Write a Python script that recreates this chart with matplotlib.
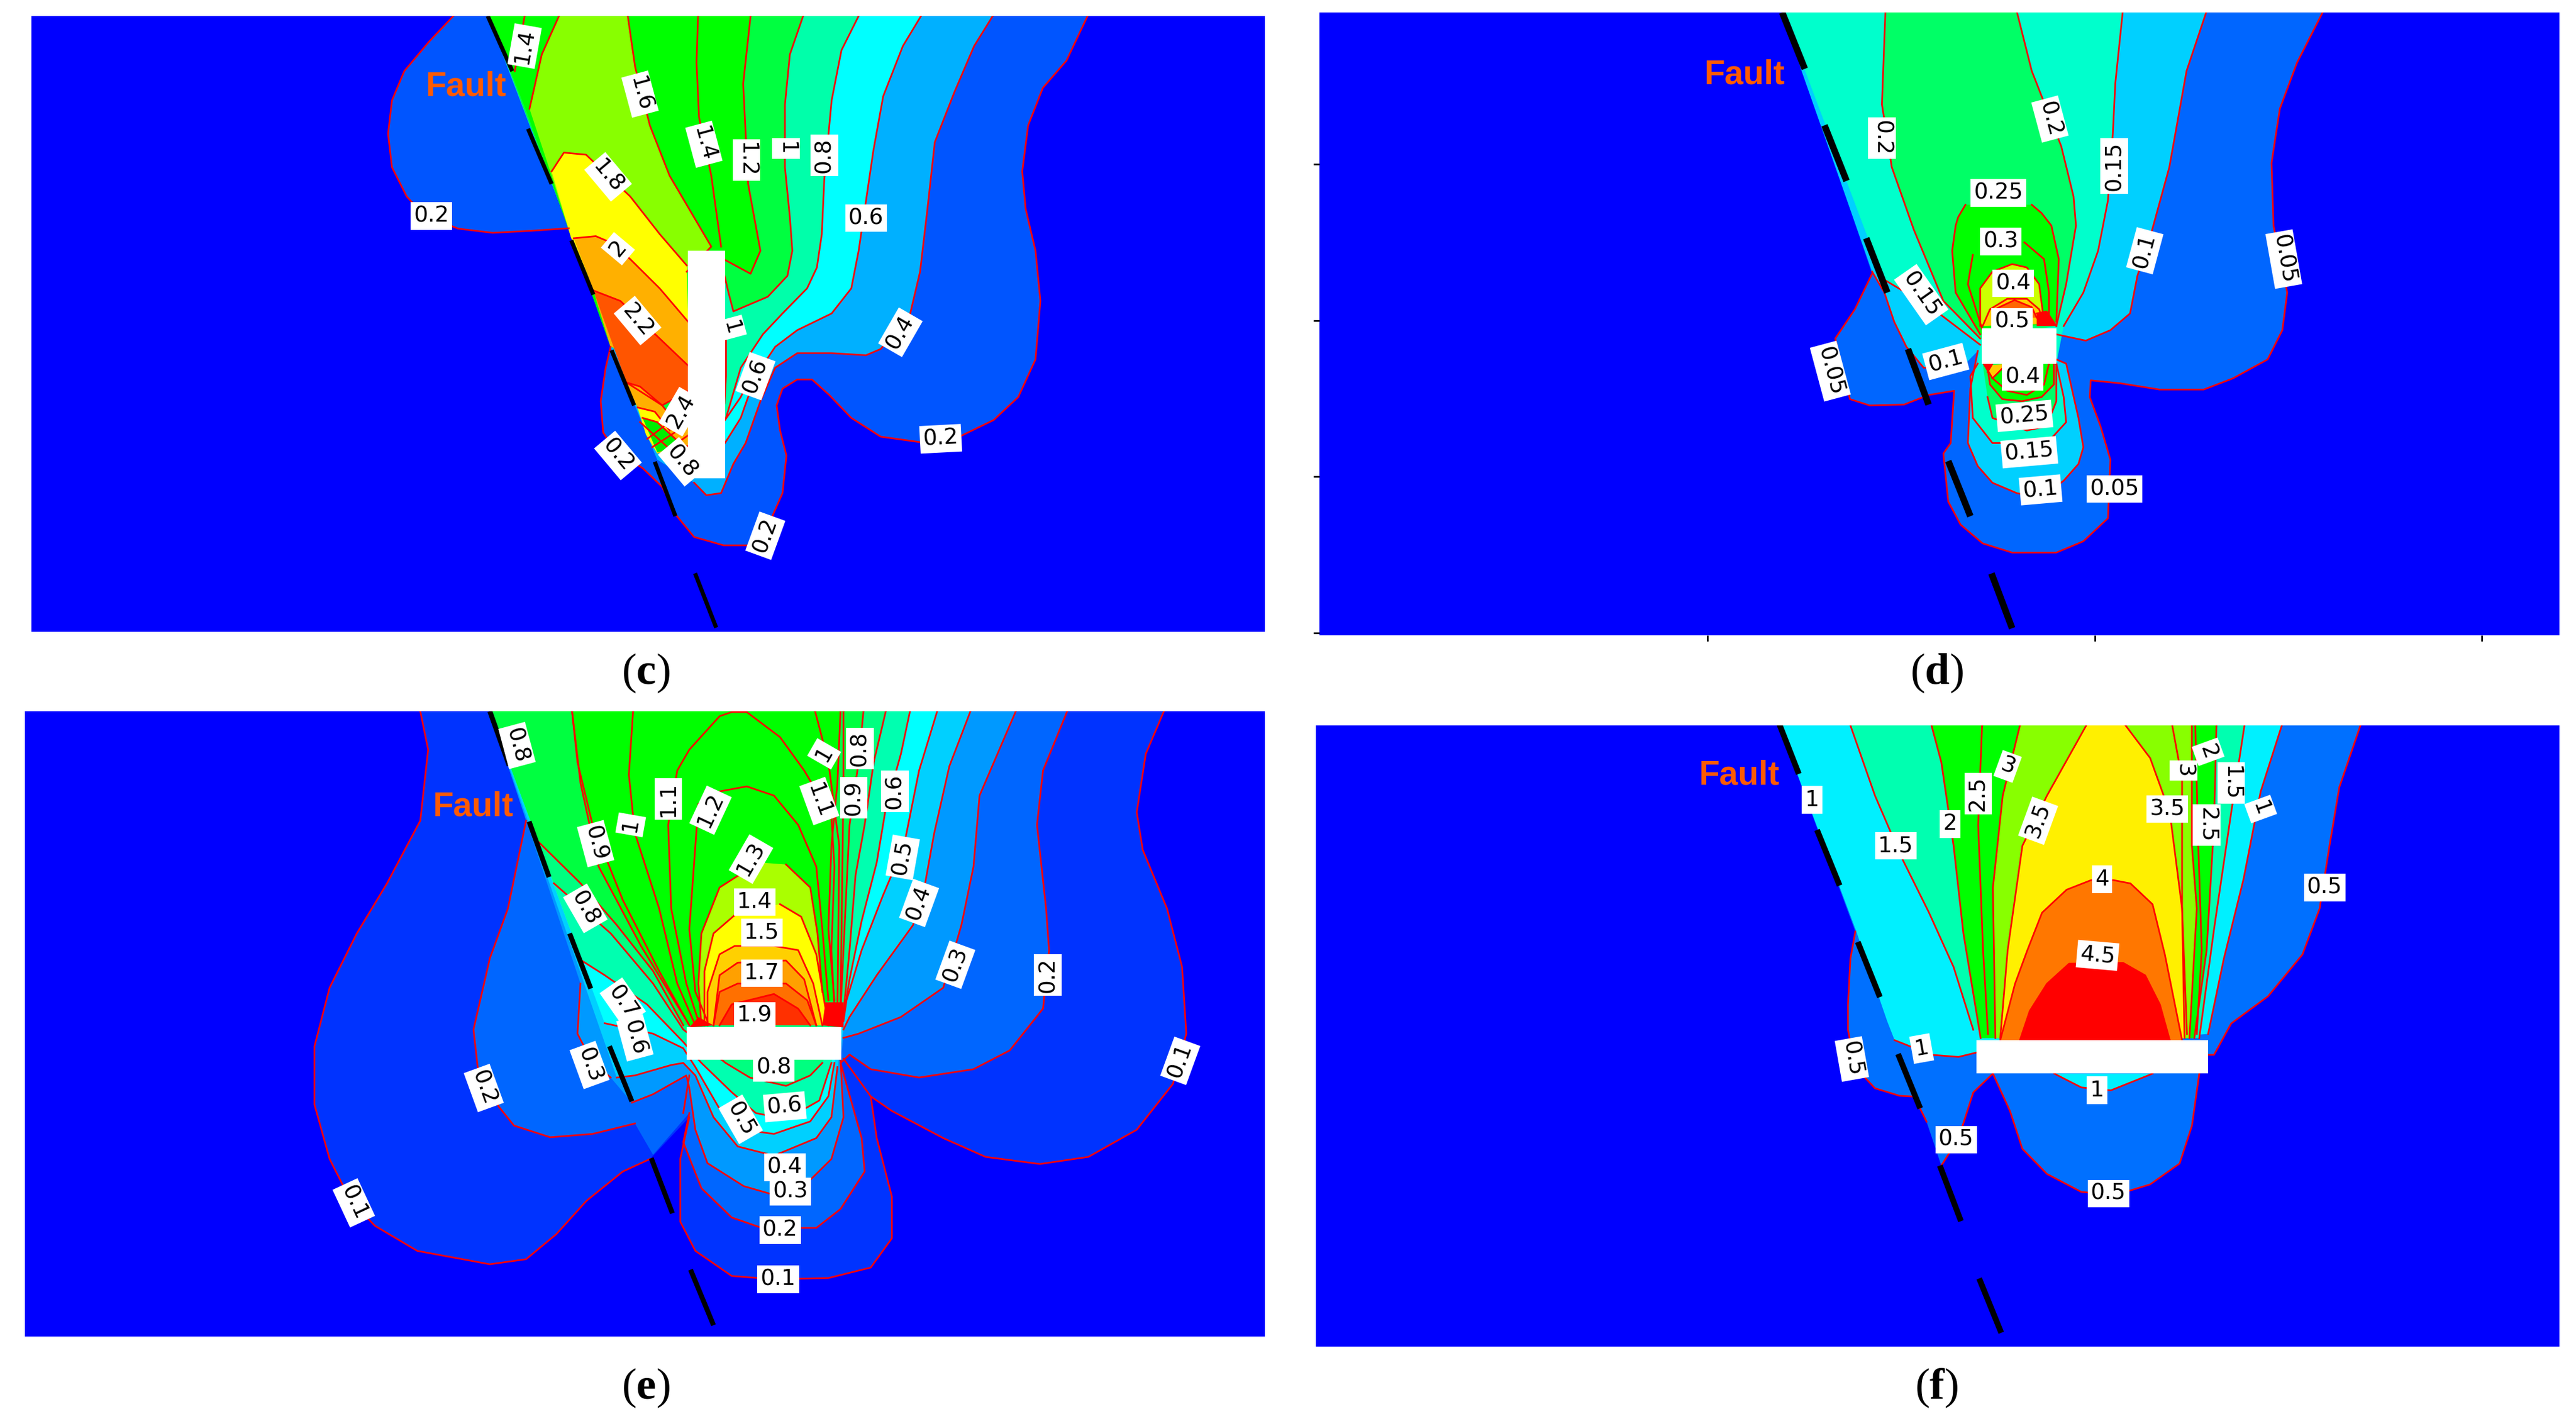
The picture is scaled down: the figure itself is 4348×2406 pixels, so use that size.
import matplotlib
matplotlib.use('Agg')
import matplotlib.pyplot as plt

plt.rcParams['mathtext.fontset'] = 'custom'
plt.rcParams['mathtext.rm'] = 'Liberation Serif'
plt.rcParams['mathtext.bf'] = 'Liberation Serif:bold'

W, H = 4348, 2406
N = None

# ---------- panel (c) : contour outlines, None = pen lifted (boundary not stroked)
c_02 = [(320,38),(270,100),(220,170),(195,240),(187,320),(195,400),(225,470),(260,515),(330,547),(400,557),(480,552),(555,546),N,(640,830),(630,880),(620,960),(625,1035),(650,1080),(705,1120),(745,1165),(775,1235),(810,1285),(870,1305),(920,1305),(960,1260),(990,1180),(998,1090),(985,1030),(978,970),(990,930),(1020,908),(1050,908),(1085,945),(1130,1000),(1190,1045),(1270,1058),(1350,1045),(1420,1005),(1470,950),(1505,860),(1515,720),(1505,600),(1485,500),(1478,410),(1490,300),(1520,210),(1568,145),(1611,38)]
c_04 = [(1418,38),(1380,110),(1340,220),(1300,340),(1285,500),(1270,650),(1250,750),(1190,835),(1160,850),(1090,845),(1020,845),(975,880),(945,960),(915,1060),(890,1110),(865,1180),(835,1185),(810,1155),N,(735,1100),N,(640,830),N,(555,546),N,(390,38)]
c_06 = [(1272,38),(1235,110),(1195,230),(1175,360),(1160,480),(1145,600),(1130,690),(1090,750),(1020,790),(975,830),(935,900),(905,1000),(873,1060),N,(760,1090),N,(715,1040),N,(555,546),N,(392,38)]
c_08 = [(1145,38),(1110,120),(1090,240),(1075,430),(1070,560),(1060,640),(1040,690),(990,750),(950,800),(905,880),(875,1000),N,(705,1010),N,(555,546),N,(392,38)]
c_10 = [(1032,38),(1005,130),(995,250),(995,400),(1005,520),(1010,600),(1000,660),(960,710),(890,745),(880,700),(872,660),N,(800,1060),N,(700,990),N,(555,546),N,(392,38)]
c_12 = [(925,38),(910,200),(920,440),(945,600),(925,655),(870,620),N,(800,900),N,(640,830),N,(470,270),N,(392,38)]
c_16 = [(535,38),(500,130),(475,260),N,(520,420),N,(560,570),N,(795,650),(845,590),(800,500),(760,420),(720,300),(690,160),(675,38)]
c_18 = [(520,410),(545,365),(590,370),(680,470),(740,560),(795,635),N,(798,780),N,(610,700),N,(560,570)]
c_20 = [(565,570),(610,565),(640,580),(680,620),(740,690),(798,770),N,(798,880),N,(640,830),N,(605,695)]
c_22 = [(605,695),(660,720),(740,810),(798,875),N,(798,935),(745,970),(672,915)]
c_23 = [(672,915),(700,925),(745,970),(765,1000),N,(800,1010),N,(800,1075),N,(735,1085),N,(700,990)]
c_24 = [(695,975),(730,985),(760,1030),N,(735,1085),N,(712,1040)]
c_25 = [(705,1000),(735,1010),(790,1070),N,(735,1082)]
c_bands = [c_02,c_04,c_06,c_08,c_10,c_12,c_16,c_18,c_20,c_22,c_23,c_24,c_25]
c_colors = ['#0055FF','#00B0FF','#00FFFF','#00FFAA','#00FF40','#00FF00','#88FF00','#FFFF00','#FFB000','#FF5500','#FFB000','#FFFF00','#00EE00']
c_lines = [[(818,38),(815,150),(820,280),(845,420),(865,590)],[(465,38),(445,170)],
           [(700,1010),(770,1085)],[(715,1050),(760,1010)],[(725,1070),(790,1020)],[(745,1085),(800,1040)],[(775,1080),(800,1065)],
           [(875,800),(875,900),(872,965)],[(873,1005),(905,950),(930,890)]]
c_fault = [((390,38),(440,170)),((472,308),(520,440)),((560,575),(605,705)),((642,838),(688,970)),((730,1105),(772,1235)),((812,1372),(855,1502))]
c_rect = (797,600,873,1145)
c_text = ['1.4','1.6','1.4','1.2','1','0.8','0.6','0.4','0.2','0.2','0.6','1','2.4','0.8','0.2','2.2','2','1.8','0.2']
c_x = [465,700,830,917,997,1075,1160,1230,1312,955,935,885,783,785,655,695,655,635,275]
c_y = [110,225,345,383,355,372,522,795,1050,1282,900,785,985,1105,1090,767,595,423,517]
c_rot = [80,-75,-75,-90,-90,90,0,60,3,70,70,-75,60,-50,-50,-50,50,-50,0]

# ---------- panel (d)
d_005 = [(1472,30),(1420,150),(1385,260),(1368,390),(1372,540),(1400,700),(1390,790),(1360,860),(1290,905),(1230,932),(1140,932),(1060,917),(1000,910),(998,950),(1020,1020),(1040,1100),(1035,1240),(985,1295),(930,1322),(840,1322),(780,1300),(735,1255),(710,1200),(700,1085),(715,1060),(722,935),(670,945),(620,968),(550,970),(510,955),(480,810),(520,740),(555,655),N,(375,30)]
d_010 = [(1235,30),(1195,170),(1160,400),(1125,550),(1095,660),(1080,750),(1040,790),(990,815),(930,800),N,(930,860),(950,870),(975,1000),(985,1070),(975,1110),(945,1150),(900,1190),(850,1180),(800,1155),(770,1115),(750,1060),(755,930),(770,840),N,(745,870),(660,880),(625,830),(600,770),(580,700),(555,650),N,(410,165),N,(376,30)]
d_015 = [(1065,30),(1050,200),(1045,320),(1035,480),(1015,600),(985,700),(945,780),N,(930,870),(945,950),(950,1010),(915,1055),(880,1060),(800,1060),(760,1000),(755,900),(770,870),N,(775,825),(680,740),(578,668),N,(374,30)]
d_020 = [(850,30),(880,170),(940,350),(965,470),(970,540),(950,680),(930,780),N,(775,810),(700,720),(640,550),(595,400),(575,250),(582,30)]
d_025 = [(745,490),(730,520),(725,540),(718,600),(725,700),(775,800),N,(930,770),(935,620),(920,540),(900,510),(880,490)]
d_035 = [(775,780),(775,690),(800,650),(840,632),(870,640),(895,680),(905,770)]
d_040 = [(780,780),(795,740),(830,715),(870,715),(895,740),(905,775)]
d_045 = [(800,760),(805,740),(845,718),(880,735),(890,760)]
d_050 = [(890,750),(910,745),(930,780),N,(890,780)]
d_up = [d_005,d_010,d_015,d_020,d_025,d_035,d_040,d_045,d_050]
d_up_colors = ['#0066FF','#00D0FF','#00FFCC','#00FF66','#00FF00','#CCFF00','#FFCC00','#FF6600','#FF0000']
d_low1 = [(790,950),(800,1000),(870,1030),(910,1020),(930,960),(930,870),N,(780,870)]
d_low2 = [(790,880),(795,920),(820,955),(860,960),(900,950),(925,920),(925,870)]
d_low3 = [(785,875),(800,905),(830,870)]
d_low4 = [(780,870),N,(800,870),(790,890)]
d_bands = d_up + [d_low1,d_low2,d_low3,d_low4]
d_colors = d_up_colors + ['#00FF66','#00FF00','#FFCC00','#FF0000']
d_lines = [[(760,610),(750,680),(780,790)],[(865,580),(905,620),(915,700),(915,770)],[(800,905),(830,935),(870,945),(905,920),(915,870)]]
d_fault = [((372,30),(418,165)),((458,300),(503,433)),((543,570),(586,700)),((628,835),(670,968)),((710,1103),(755,1235)),((798,1372),(840,1503))]
d_rect = (778,785,930,870)
d_text = ['0.2','0.2','0.15','0.1','0.05','0.25','0.3','0.4','0.5','0.15','0.1','0.05','0.4','0.25','0.15','0.1','0.05']
d_x = [575,917,1048,1110,1393,812,817,842,840,655,705,470,862,865,875,898,1048]
d_y = [330,285,397,600,620,462,578,678,770,705,865,888,902,995,1082,1172,1170]
d_rot = [-90,-75,90,75,-80,0,0,0,0,-55,15,-75,0,5,5,5,0]
d_xticks = [220,1008,1796]
d_yticks = [393,767,1140,1514]

# ---------- panel (e)
e_01 = [(205,28),(218,120),(205,290),(150,440),(100,560),(55,690),(30,830),(30,970),(55,1100),(90,1200),(130,1260),(200,1320),(320,1352),(380,1340),(430,1280),(480,1200),(540,1130),(585,1100),N,(650,1000),(635,1100),(635,1250),(660,1320),(720,1380),(790,1388),(880,1385),(950,1360),(985,1290),(985,1190),(960,1050),(950,950),(985,985),(1070,1050),(1140,1095),(1230,1112),(1310,1095),(1390,1030),(1450,920),(1472,800),(1465,640),(1440,500),(1400,360),(1390,270),(1405,130),(1435,28)]
e_02 = [(1275,28),(1235,170),(1225,300),(1240,500),(1245,600),(1235,740),(1180,840),(1120,885),(1030,905),(950,885),(915,850),(900,870),(935,1050),(940,1130),(900,1220),(860,1265),(770,1265),(720,1240),(670,1170),(640,1060),(650,990),N,(590,1090),N,(560,1015),(490,1040),(420,1048),(360,1020),(335,975),(300,880),(293,790),(320,620),(350,500),(380,290),N,(320,28)]
e_03 = [(1190,28),(1130,230),(1120,400),(1100,540),(1070,690),(1000,760),(930,800),(905,810),N,(900,860),(905,1000),(885,1100),(850,1150),(800,1190),(740,1165),(680,1110),(660,1030),(650,930),(645,900),(590,945),(555,965),N,(520,905),(490,870),(465,800),(470,680),N,(320,28)]
e_04 = [(1115,28),(1080,160),(1055,320),(1040,440),(1020,540),(960,660),(915,760),(905,790),N,(895,880),(885,1000),(860,1050),(790,1092),(730,1070),(690,1000),(660,900),(640,870),(620,875),(560,900),(530,905),N,(320,28)]
e_05 = [(1060,28),(1030,170),(1005,350),(970,470),(935,600),(910,720),(905,770),N,(890,870),(880,950),(850,1010),(790,1040),(740,1030),(700,980),(660,880),(640,835),(590,800),(510,775),N,(320,28)]
e_06 = [(1015,28),(1000,130),(975,260),(960,390),(935,530),(915,670),(905,760),N,(885,870),(865,960),(810,1005),(760,990),(720,940),(670,870),(640,820),(580,730),(510,660),(472,625),N,(320,28)]
e_07 = [(975,28),(955,150),(940,300),(925,420),(915,600),(905,750),N,(870,870),(850,900),(810,925),(750,905),(710,870),(640,790),(590,680),(520,560),(426,440),N,(320,28)]
e_08 = [(938,28),(930,150),(915,300),(910,450),(905,600),(900,750),N,(640,780),(590,650),(530,540),(470,440),(400,340),N,(320,28)]
e_09 = [(900,28),(895,200),(885,350),(880,550),(890,720),N,(650,780),(570,590),(500,400),(470,200),(456,28)]
e_13 = [(765,390),(700,450),(670,560),(665,680),(670,780),N,(870,700),(862,560),(850,450),(810,395)]
e_14 = [(675,780),(675,650),(690,560),(730,510),N,(800,490),(835,520),(860,610),(880,780)]
e_15 = [(680,780),(680,700),(700,610),(725,590),(790,590),(830,600),(855,680),(870,780)]
e_16 = [(690,780),(700,660),(730,630),(810,625),(840,670),(860,780)]
e_17 = [(690,780),(700,700),(730,680),(810,680),(845,720),(860,780)]
e_18 = [(700,780),(720,730),(790,705),(830,740),(850,780)]
e_19 = [(870,780),N,(875,725),N,(905,725),N,(905,785)]
e_19b = [(650,785),N,(665,760),N,(690,780)]
e_bands = [e_01,e_02,e_03,e_04,e_05,e_06,e_07,e_08,e_09,e_13,e_14,e_15,e_16,e_17,e_18,e_19,e_19b]
e_colors = ['#0033FF','#0066FF','#0099FF','#00D0FF','#00FFFF','#00FFB0','#00FF80','#00FF40','#00FF00','#AAFF00','#FFFF00','#FFD000','#FFA000','#FF7000','#FF3000','#FF0000','#FF0000']
e_lines = [[(456,28),(465,150),(490,300),(540,480),(600,650),(650,780)],
           [(557,28),(550,180),(560,320),(600,500),(630,680),(660,780)],
           [(665,770),(645,680),(620,500),(615,300),(630,170),(650,120),(700,40),(720,30),(745,30),(800,90),(840,170),(885,280),(890,400),(885,600),(890,740)],
           [(680,770),(660,700),(650,550),(660,350),(665,250),(700,220),(745,208),(790,230),(830,300),(860,400),(870,550),(880,720)],
           [(858,28),(880,150),(898,350),(895,740)],[(905,28),(905,200),(900,740)],
           [(905,860),(950,950)],[(650,900),(640,990)]]
e_fault = [((320,28),(352,158)),((385,292),(418,425)),((452,560),(487,692)),((518,830),(555,962)),((587,1098),(622,1230)),((652,1365),(690,1498))]
e_rect = (646,785,901,863)
e_text = ['0.8','1','0.8','1.1','1.2','1','0.9','1.3','1.1','0.9','0.6','0.5','0.4','0.8','1.4','1.5','1.7','1.9','0.7','0.6','0.3','0.2','0.3','0.2','0.1','0.8','0.6','0.5','0.4','0.3','0.2','0.1','0.1']
e_x = [365,873,932,615,685,553,495,752,865,922,990,1003,1030,478,758,770,770,758,540,560,485,310,1090,1243,1462,790,808,735,808,817,800,797,95]
e_y = [110,130,118,238,265,300,345,382,243,235,220,378,487,500,485,558,655,757,725,810,875,930,635,660,865,882,975,1005,1120,1178,1270,1388,1205]
e_rot = [-75,60,90,90,65,80,-75,60,-70,90,90,80,70,-60,0,0,0,0,-55,-75,-70,-70,70,90,70,0,5,-60,0,0,0,0,-65]

# ---------- panel (f)
f_05 = [(1428,62),(1385,210),(1365,350),(1345,500),(1310,610),(1240,710),(1165,775),(1130,850),(1118,850),N,(1100,895),(1085,1020),(1060,1110),(1000,1160),(930,1185),(860,1178),(790,1135),(740,1075),(715,985),(680,895),(640,940),(610,1050),(575,1115),N,(545,1010),(520,950),(490,948),(440,930),(400,880),(385,790),(385,730),(390,620),(400,555),N,(245,62)]
f_10 = [(1268,62),(1225,220),(1190,430),(1150,620),(1118,800),N,(645,845),(610,855),(555,850),(480,815),N,(465,770),N,(402,555),N,(245,62)]
f_10b = [(805,895),(860,928),(920,935),(1005,895)]
f_15 = [(1192,62),(1165,270),(1130,550),(1100,810),N,(640,790),(600,640),(550,510),(495,380),(440,230),(390,62)]
f_20 = [(1135,62),(1130,300),(1115,600),(1090,810),N,(655,810),(620,560),(600,350),(575,150),(555,62)]
f_30 = [(735,62),(700,230),(680,450),(685,810),N,(1080,810),(1095,500),(1085,350),(1085,62)]
f_35 = [(870,62),(790,230),(740,350),(710,600),(695,810),N,(1070,810),(1065,500),(1040,270),(1000,140),(950,62)]
f_40 = [(695,815),(725,680),(750,600),(780,510),(830,455),(880,432),(925,432),(960,440),(1005,490),(1030,610),(1065,815)]
f_45 = [(735,815),(755,745),(790,680),(835,632),(945,630),(990,660),(1020,730),(1040,815)]
f_bands = [f_05,f_10,f_10b,f_15,f_20,f_30,f_35,f_40,f_45]
f_colors = ['#0070FF','#00F0FF','#00F0FF','#00FFB0','#00FF00','#88FF00','#FFF000','#FF7700','#FF0000']
f_lines = [[(658,62),(650,300),(660,600),(670,800)],[(1092,62),(1098,350),(1105,600),(1095,800)],[(1045,62),(1065,190),(1065,500),(1075,800)]]
f_fault = [((245,58),(285,178)),((322,312),(368,445)),((405,580),(450,712)),((487,848),(532,978)),((572,1115),(615,1248)),((652,1385),(697,1515))]
f_rect = (647,815,1118,895)
f_text = ['1','1.5','2','2.5','3','3.5','3','2','2.5','1.5','1','3.5','0.5','4','4.5','0.5','1','0.5','1','0.5']
f_x = [312,482,593,650,710,772,1068,1118,1115,1165,1225,1035,1355,902,893,393,535,605,892,915]
f_y = [240,350,298,225,160,290,170,125,300,200,262,262,450,430,612,860,835,1053,935,1182]
f_rot = [0,0,0,90,-20,70,-90,-70,-90,-90,-70,0,0,0,-5,-80,10,0,0,0]

# panel frames in output pixels and the view of the contour coordinates
frames = {'c':(53,27,2135,1066),'d':(2227,21,4320,1072),'e':(42,1200,2135,2255),'f':(2221,1224,4320,2272)}
views = {'c':(-539,1972,1512,38),'d':(-570,1954,1520,30),'e':(-449,1602,1525,28),'f':(-698,1833,1548,62)}
fault_pos = {'c':(345,208),'d':(295,180),'e':(292,257),'f':(163,182)}
fault_w = {'c':5,'d':8,'e':6,'f':7}
cap_x = {'c':393,'d':1179,'e':393,'f':1179}
cap_y = {'c':410,'d':410,'e':845,'f':845}
THUMB_W, THUMB_H = 1568, 868

fig = plt.figure(figsize=(W/100, H/100), dpi=100, facecolor='white')

def panel(key, bands, colors, lines, fault, rect, text, xs, ys, rot):
    x0, y0, x1, y1 = frames[key]
    ax = fig.add_axes([x0/W, 1-y1/H, (x1-x0)/W, (y1-y0)/H], facecolor='#0000FF')
    v = views[key]
    ax.set_xlim(v[0], v[1]); ax.set_ylim(v[2], v[3])
    for s in ax.spines.values():
        s.set_visible(False)
    ax.set_xticks([]); ax.set_yticks([])
    for pts, col in zip(bands, colors):
        full = [p for p in pts if p is not None]
        ax.fill([p[0] for p in full], [p[1] for p in full], color=col, lw=0, zorder=2)
    for pts in bands:
        seg = []
        for p in pts + [None]:
            if p is None:
                if len(seg) > 1:
                    ax.plot([q[0] for q in seg], [q[1] for q in seg], color='#FF0000', lw=2, zorder=3)
                seg = []
            else:
                seg.append(p)
    for seg in lines:
        ax.plot([q[0] for q in seg], [q[1] for q in seg], color='#FF0000', lw=2, zorder=3)
    for a, b in fault:
        ax.plot([a[0], b[0]], [a[1], b[1]], color='black', lw=fault_w[key], zorder=5, solid_capstyle='butt')
    ax.fill([rect[0], rect[2], rect[2], rect[0]], [rect[1], rect[1], rect[3], rect[3]], color='white', lw=0, zorder=4)
    for t, x, y, r in zip(text, xs, ys, rot):
        ax.text(x, y, t, rotation=r, rotation_mode='anchor', ha='center', va='center',
                fontsize=27, family='DejaVu Sans', color='black', zorder=6,
                bbox=dict(boxstyle='square,pad=0.14', fc='white', ec='none'))
    ax.text(*fault_pos[key], 'Fault', color='#FF5A00', fontsize=41, fontweight='bold',
            family='Liberation Sans', ha='center', va='center', zorder=6)
    fig.text(cap_x[key]/THUMB_W, 1-cap_y[key]/THUMB_H, r'($\mathbf{%s}$)' % key,
             fontsize=54, ha='center', va='center', family='Liberation Serif')
    return ax

panel('c', c_bands, c_colors, c_lines, c_fault, c_rect, c_text, c_x, c_y, c_rot)
ax_d = panel('d', d_bands, d_colors, d_lines, d_fault, d_rect, d_text, d_x, d_y, d_rot)
ax_d.set_xticks(d_xticks); ax_d.set_yticks(d_yticks)
ax_d.tick_params(length=7, width=2, labelbottom=False, labelleft=False, color='black')
panel('e', e_bands, e_colors, e_lines, e_fault, e_rect, e_text, e_x, e_y, e_rot)
panel('f', f_bands, f_colors, f_lines, f_fault, f_rect, f_text, f_x, f_y, f_rot)

fig.savefig('out.png', dpi=100, facecolor='white')
